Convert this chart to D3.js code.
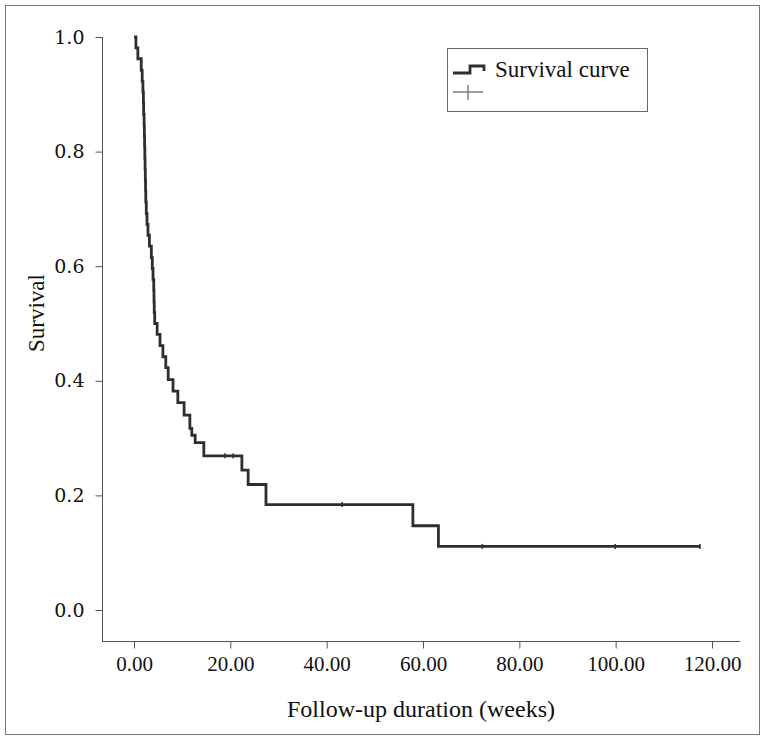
<!DOCTYPE html>
<html>
<head>
<meta charset="utf-8">
<script src="https://cdn.jsdelivr.net/npm/d3@7/dist/d3.min.js"></script>
<style>
  body { margin: 0; background: #fff; }
  svg { display: block; }
</style>
</head>
<body>
<svg id="chart" width="766" height="740"></svg>
<script>
// Kaplan-Meier step data
const eventTimes = [0.4, 0.8, 1.5, 1.7, 1.85, 1.95, 2.0, 2.1, 2.15, 2.2, 2.25, 2.3, 2.35, 2.4, 2.45, 2.55, 2.7, 2.9, 3.2, 3.6, 3.8, 3.95, 4.1, 4.15, 4.2, 4.3,
  4.8, 5.4, 6.0, 6.6, 7.1, 8.1, 9.1, 10.4, 11.6, 12.0, 12.7, 14.5, 22.4, 23.7, 27.4, 57.9, 63.2];
const survivalValues = [0.981, 0.962, 0.942, 0.923, 0.904, 0.885, 0.865, 0.846, 0.827, 0.808, 0.788, 0.769, 0.75, 0.731, 0.712, 0.692, 0.673, 0.654, 0.635, 0.615, 0.596, 0.577, 0.558, 0.538, 0.519, 0.5,
  0.481, 0.4615, 0.442, 0.423, 0.402, 0.382, 0.362, 0.340, 0.317, 0.305, 0.292, 0.269, 0.244, 0.219, 0.184, 0.147, 0.111];
const censorTimes = [18.9, 20.6, 43.2, 72.3, 99.9, 117.5];
const xTicks = [0, 20, 40, 60, 80, 100, 120];
const yTicks = [0, 0.2, 0.4, 0.6, 0.8, 1.0];
const xTitle = "Follow-up duration (weeks)";
const yTitle = "Survival";
const legendLabel = "Survival curve";

const svg = d3.select("#chart");
const serif = "'Liberation Serif', 'Times New Roman', serif";

// frame
svg.append("rect").attr("x", 5.5).attr("y", 5.5).attr("width", 754).attr("height", 729)
  .attr("fill", "none").attr("stroke", "#777").attr("stroke-width", 1);

const x = d3.scaleLinear().domain([0, 120]).range([134, 712]);
const y = d3.scaleLinear().domain([0, 1]).range([610, 37]);
const axisX0 = 102, axisX1 = 740, axisY = 641;

// axis lines
svg.append("line").attr("x1", axisX0 + 0.5).attr("x2", axisX0 + 0.5).attr("y1", y(1)).attr("y2", axisY + 0.5)
  .attr("stroke", "#555").attr("stroke-width", 1);
svg.append("line").attr("x1", axisX0).attr("x2", axisX1).attr("y1", axisY + 0.5).attr("y2", axisY + 0.5)
  .attr("stroke", "#555").attr("stroke-width", 1);

const gx = svg.append("g").attr("transform", `translate(0,${axisY + 0.5})`)
  .call(d3.axisBottom(x).tickValues(xTicks).tickFormat(d3.format(".2f")).tickSize(7).tickSizeOuter(0).tickPadding(8));
gx.select(".domain").remove();
gx.selectAll(".tick line").attr("stroke", "#555");
gx.selectAll(".tick text").attr("font-family", serif).attr("font-size", 21).attr("fill", "#111");

const gy = svg.append("g").attr("transform", `translate(${axisX0 + 0.5},0)`)
  .call(d3.axisLeft(y).tickValues(yTicks).tickFormat(d3.format(".1f")).tickSize(7).tickSizeOuter(0).tickPadding(11));
gy.select(".domain").remove();
gy.selectAll(".tick line").attr("stroke", "#555");
gy.selectAll(".tick text").attr("font-family", "'DejaVu Serif', serif").attr("font-size", 19).attr("fill", "#111");

// titles
svg.append("text").attr("x", 421).attr("y", 717).attr("text-anchor", "middle")
  .attr("font-family", serif).attr("font-size", 24).attr("fill", "#111").text(xTitle);
svg.append("text").attr("transform", "translate(44,313) rotate(-90)").attr("text-anchor", "middle")
  .attr("font-family", serif).attr("font-size", 23).attr("fill", "#111").text(yTitle);

// KM step curve
const pts = [{t: 0, s: 1}];
eventTimes.forEach((t, i) => pts.push({t: t, s: survivalValues[i]}));
const lastT = d3.max(censorTimes);
pts.push({t: lastT, s: survivalValues[survivalValues.length - 1]});
const line = d3.line().x(d => x(d.t)).y(d => y(d.s)).curve(d3.curveStepAfter);
svg.append("path").datum(pts).attr("d", line).attr("fill", "none")
  .attr("stroke", "#2e2e2e").attr("stroke-width", 2.8).attr("stroke-linejoin", "miter");

// survival at time t
function survAt(t) {
  let s = 1;
  eventTimes.forEach((et, i) => { if (et <= t) s = survivalValues[i]; });
  return s;
}
svg.append("g").selectAll("line").data(censorTimes).join("line")
  .attr("x1", d => x(d)).attr("x2", d => x(d))
  .attr("y1", d => y(survAt(d)) - 2.5).attr("y2", d => y(survAt(d)) + 2.5)
  .attr("stroke", "#333").attr("stroke-width", 1.6);

// legend
const lg = svg.append("g");
lg.append("rect").attr("x", 447.5).attr("y", 48.5).attr("width", 200).attr("height", 63)
  .attr("fill", "#fff").attr("stroke", "#666").attr("stroke-width", 1);
lg.append("path").attr("d", "M453,73 H470 V66 H484 V71").attr("fill", "none")
  .attr("stroke", "#2e2e2e").attr("stroke-width", 2.8);
lg.append("text").attr("x", 495).attr("y", 77).attr("font-family", serif).attr("font-size", 23)
  .attr("fill", "#111").text(legendLabel);
lg.append("line").attr("x1", 453).attr("x2", 483).attr("y1", 92).attr("y2", 92).attr("stroke", "#888").attr("stroke-width", 1.6);
lg.append("line").attr("x1", 468).attr("x2", 468).attr("y1", 85).attr("y2", 100).attr("stroke", "#888").attr("stroke-width", 1.6);
</script>
</body>
</html>
